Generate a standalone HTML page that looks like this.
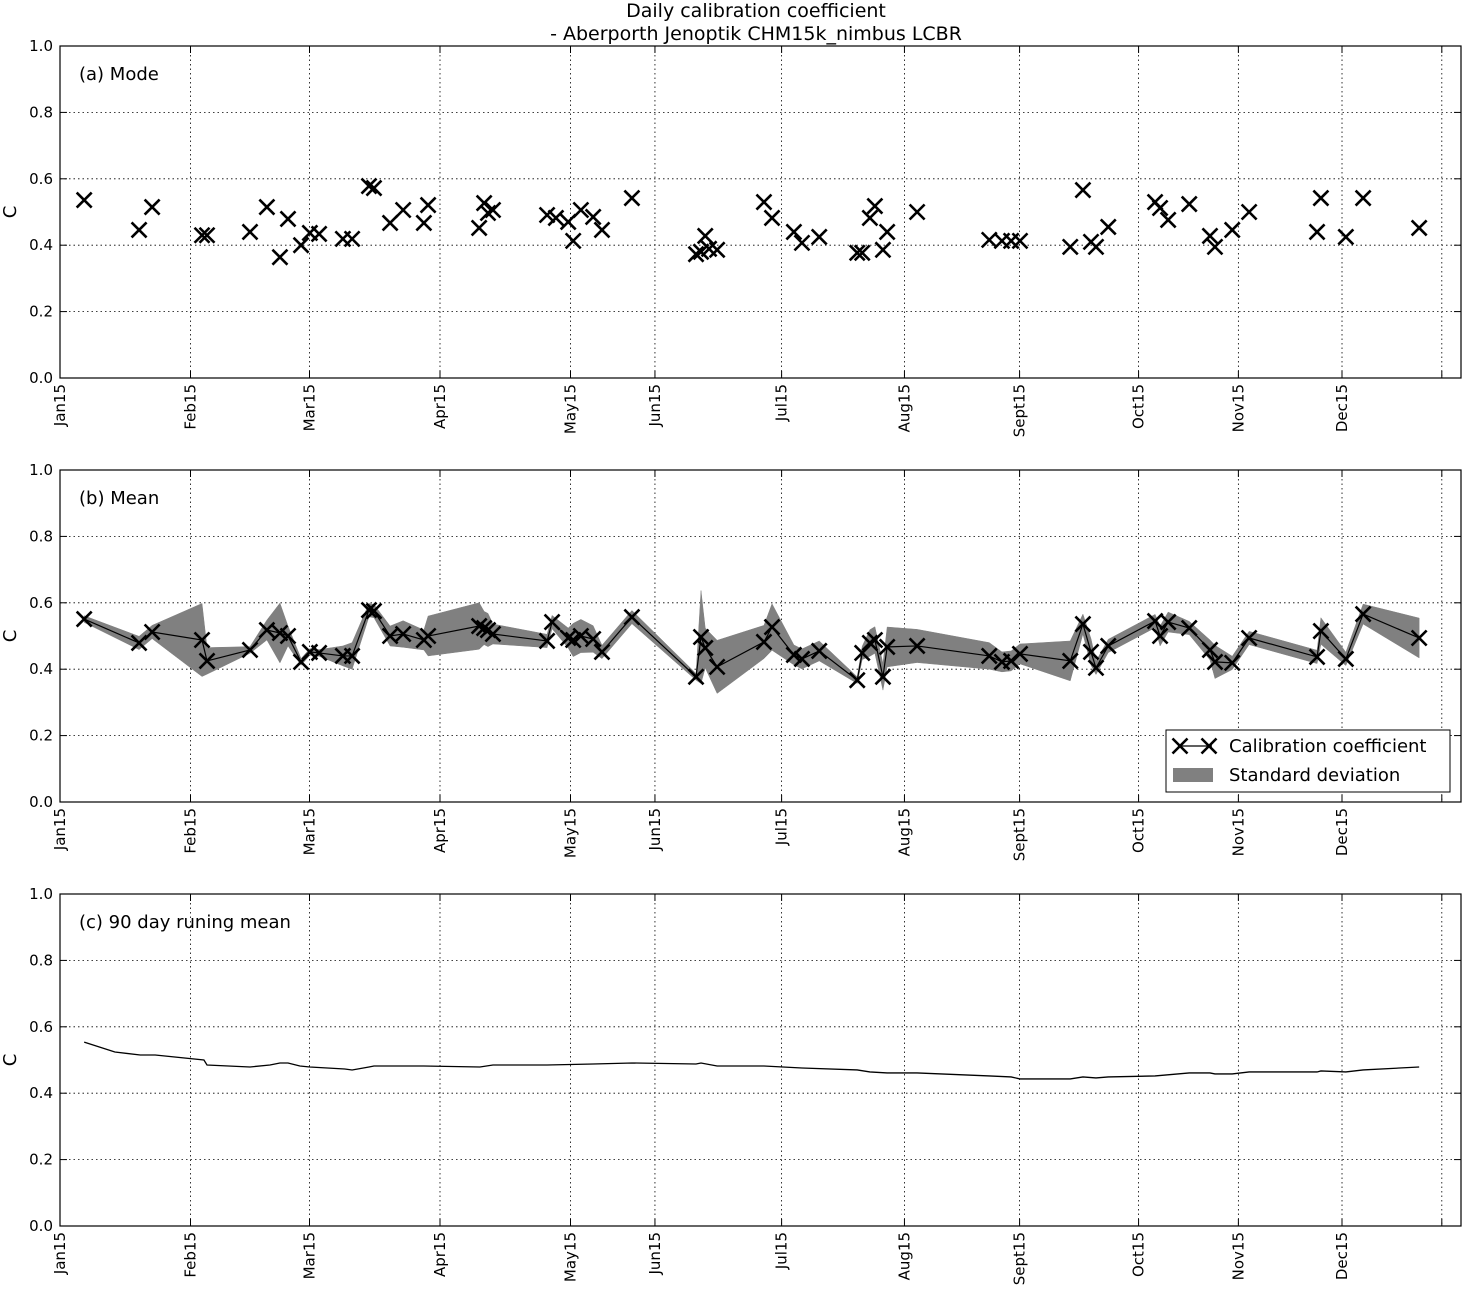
<!DOCTYPE html>
<html><head><meta charset="utf-8"><style>
body{margin:0;background:#fff;}
svg{display:block;font-family:"DejaVu Sans","Liberation Sans",sans-serif;}
</style></head><body>
<svg id="chart" width="1463" height="1293" viewBox="0 0 1463 1293" xmlns="http://www.w3.org/2000/svg">
<text x="756" y="17" font-size="19" text-anchor="middle">Daily calibration coefficient</text>
<text x="756" y="40" font-size="19" text-anchor="middle">- Aberporth Jenoptik CHM15k_nimbus LCBR</text>
</svg>
<script>
const tickLabels=["Jan15","Feb15","Mar15","Apr15","May15","Jun15","Jul15","Aug15","Sept15","Oct15","Nov15","Dec15",""];
const tickDays=[0,34,65,99,133,155,188,220,250,281,307,334,360];
const yTicks=[0,0.2,0.4,0.6,0.8,1.0];
const modeDays=[6.3,20.6,24,37,38.3,49.5,53.9,57.3,59.4,62.8,65.1,67.5,73.7,76.1,80.5,81.8,86,89.4,94.8,95.9,109.2,110.5,111.5,112.8,126.9,129.2,132.4,133.7,135.7,138.9,141.2,149,165.7,167,168.1,169.1,171.2,183.4,185.5,191.2,193.3,197.8,207.7,209,211,212.3,214.4,215.5,223.3,242.1,245.4,247.8,250.1,263.2,266.5,268.6,269.9,273.1,285.3,286.6,288.7,294.2,299.6,300.9,305.4,309.8,327.5,328.5,335,339.5,354.1];
const modeVals=[0.536,0.446,0.515,0.43,0.43,0.44,0.515,0.364,0.479,0.4,0.437,0.434,0.419,0.419,0.578,0.572,0.467,0.506,0.467,0.521,0.452,0.527,0.497,0.506,0.491,0.482,0.47,0.413,0.506,0.485,0.446,0.542,0.373,0.38,0.428,0.389,0.386,0.53,0.482,0.44,0.407,0.425,0.377,0.377,0.482,0.518,0.386,0.44,0.5,0.416,0.413,0.413,0.413,0.395,0.566,0.41,0.395,0.455,0.53,0.512,0.476,0.524,0.428,0.395,0.446,0.5,0.44,0.542,0.425,0.542,0.452];
const meanDays=[6.3,20.6,24,37,38.3,49.5,53.9,57.3,59.4,62.8,65.1,67.5,73.7,76.1,80.5,81.8,86,89.4,94.8,95.9,109.2,110.5,111.5,112.8,126.9,128.2,132.4,133.7,135.7,138.9,141.2,149,165.7,167,168.1,171.2,183.4,185.5,191.2,193.3,197.8,207.7,209,211,212.3,214.4,215.5,223.3,242.1,245.4,247.8,250.1,263.2,266.5,268.6,269.9,273.1,285.3,286.6,288.7,294.2,299.6,300.9,305.4,309.8,327.5,328.5,335,339.5,354.1];
const meanVals=[0.551,0.479,0.512,0.488,0.425,0.458,0.518,0.509,0.5,0.422,0.452,0.449,0.44,0.44,0.578,0.575,0.5,0.506,0.488,0.5,0.53,0.524,0.518,0.506,0.485,0.542,0.494,0.488,0.5,0.491,0.452,0.557,0.377,0.497,0.464,0.407,0.482,0.527,0.443,0.431,0.455,0.367,0.449,0.479,0.488,0.377,0.467,0.47,0.44,0.422,0.425,0.446,0.425,0.536,0.452,0.404,0.47,0.545,0.5,0.542,0.524,0.458,0.422,0.419,0.494,0.437,0.515,0.431,0.566,0.494];
const meanStd=[0.01,0.02,0.02,0.11,0.04,0.01,0.03,0.09,0.03,0.01,0.01,0.01,0.03,0.04,0.02,0.02,0.03,0.04,0.03,0.06,0.07,0.05,0.05,0.03,0.02,0.02,0.03,0.05,0.05,0.04,0.02,0.02,0.01,0.14,0.06,0.08,0.05,0.07,0.03,0.03,0.03,0.01,0.02,0.04,0.04,0.04,0.06,0.05,0.04,0.03,0.03,0.03,0.06,0.03,0.04,0.02,0.02,0.02,0.03,0.03,0.02,0.03,0.05,0.02,0.02,0.02,0.04,0.02,0.03,0.06];
const runDays=[6.3,14.3,20.9,24.8,37.5,38.3,49.5,54.7,57.3,59.4,62.5,65.1,74.2,76.1,80.5,81.8,94.8,109.4,112.8,126.9,138.9,149,165.7,167,171.2,183.4,193.3,207.7,211,215.5,223.3,242.1,247.8,250.1,263.2,266.5,269.9,273.1,285.3,294.2,299.6,300.9,305.4,309.8,327.5,328.5,335,339.5,354.1];
const runVals=[0.554,0.524,0.515,0.515,0.5,0.485,0.479,0.485,0.491,0.491,0.482,0.479,0.473,0.47,0.479,0.482,0.482,0.479,0.485,0.485,0.488,0.491,0.488,0.491,0.482,0.482,0.476,0.47,0.464,0.461,0.461,0.452,0.449,0.443,0.443,0.449,0.446,0.449,0.452,0.461,0.461,0.458,0.458,0.464,0.464,0.467,0.464,0.47,0.479];

const NS="http://www.w3.org/2000/svg";
const svg=document.getElementById('chart');
const L=60,R=1461,W=R-L;
const panels=[{top:46,bot:378,label:"(a) Mode"},{top:470,bot:802,label:"(b) Mean"},{top:894,bot:1226,label:"(c) 90 day runing mean"}];
function mk(tag,attrs,parent){const e=document.createElementNS(NS,tag);for(const k in attrs)e.setAttribute(k,attrs[k]);(parent||svg).appendChild(e);return e;}
function xs(d){return L+d*W/365;}
function ysF(p){return v=>p.bot-v*(p.bot-p.top);}
function cross(g,x,y){const s=7.5;
 return mk('path',{d:`M${x-s},${y-s}L${x+s},${y+s}M${x-s},${y+s}L${x+s},${y-s}`,stroke:'#000','stroke-width':2.6,fill:'none'},g);}

panels.forEach((p,i)=>{
 const ys=ysF(p);
 const g=mk('g',{});
 
 
 tickDays.forEach(d=>{const x=xs(d);mk('line',{x1:x,x2:x,y1:p.top,y2:p.bot,stroke:'#000','stroke-width':0.8,'stroke-dasharray':'1.5,3'},g);});
 yTicks.forEach(v=>{const y=ys(v);mk('line',{x1:L,x2:R,y1:y,y2:y,stroke:'#000','stroke-width':0.8,'stroke-dasharray':'1.5,3'},g);});
 tickDays.forEach((d,k)=>{const x=xs(d);
  mk('line',{x1:x,x2:x,y1:p.bot,y2:p.bot-7,stroke:'#000'},g);mk('line',{x1:x,x2:x,y1:p.top,y2:p.top+7,stroke:'#000'},g);
  const t=mk('text',{x:0,y:0,'font-size':15,'text-anchor':'end',transform:`translate(${x+5},${p.bot+6}) rotate(-90)`},g);t.textContent=tickLabels[k];
  
  });
 yTicks.forEach(v=>{const y=ys(v);
  mk('line',{x1:L,x2:L+7,y1:y,y2:y,stroke:'#000'},g);mk('line',{x1:R-7,x2:R,y1:y,y2:y,stroke:'#000'},g);
  const t=mk('text',{x:L-7,y:y+5,'font-size':15,'text-anchor':'end'},g);t.textContent=v.toFixed(1);
  
  });
 const yl=mk('text',{x:0,y:0,'font-size':18,'text-anchor':'middle',transform:`translate(16,${(p.top+p.bot)/2}) rotate(-90)`},g);yl.textContent='C';
 
 
 const pl=mk('text',{x:79,y:p.top+34,'font-size':18},g);pl.textContent=p.label;
 
 

 if(i===0){
  modeDays.forEach((d,k)=>{const c=cross(g,xs(d),ys(modeVals[k]));
   
   });
 } else if(i===1){
  let up=meanDays.map((d,k)=>xs(d)+','+ys(meanVals[k]+meanStd[k]));
  let dn=meanDays.map((d,k)=>xs(d)+','+ys(meanVals[k]-meanStd[k])).reverse();
  const band=mk('polygon',{points:up.concat(dn).join(' '),fill:'#808080',stroke:'#808080','stroke-width':0.5},g);
  
  
  const ln=mk('polyline',{points:meanDays.map((d,k)=>xs(d)+','+ys(meanVals[k])).join(' '),fill:'none',stroke:'#000','stroke-width':1.2},g);
  
  
  meanDays.forEach((d,k)=>{const c=cross(g,xs(d),ys(meanVals[k]));
   
   });
  const lg=mk('g',{},g);
  
  
  mk('rect',{x:1166,y:730,width:284,height:62,fill:'#fff',stroke:'#000','stroke-width':1},lg);
  mk('line',{x1:1178,x2:1212,y1:746,y2:746,stroke:'#000','stroke-width':1.2},lg);
  cross(lg,1180,746);cross(lg,1209,746);
  const t1=mk('text',{x:1229,y:752,'font-size':18},lg);t1.textContent='Calibration coefficient';
  
  
  mk('rect',{x:1173,y:768,width:40,height:14,fill:'#808080'},lg);
  const t2=mk('text',{x:1229,y:781,'font-size':18},lg);t2.textContent='Standard deviation';
  
  
 } else {
  const ln=mk('polyline',{points:runDays.map((d,k)=>xs(d)+','+ys(runVals[k])).join(' '),fill:'none',stroke:'#000','stroke-width':1.3},g);
  
  
 }
 const fr=mk('rect',{x:L,y:p.top,width:W,height:p.bot-p.top,fill:'none',stroke:'#000','stroke-width':1.2},g);
 
 
});
</script>
</body></html>
